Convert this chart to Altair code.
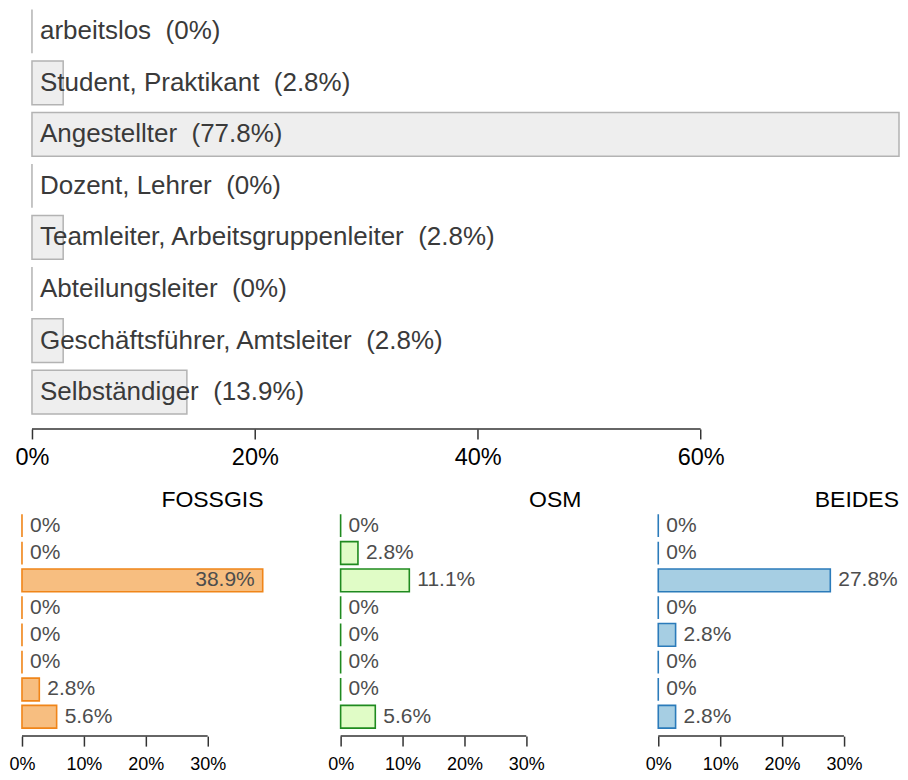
import altair as alt
import pandas as pd

FONT = "Liberation Sans"

categories = [
    "arbeitslos",
    "Student, Praktikant",
    "Angestellter",
    "Dozent, Lehrer",
    "Teamleiter, Arbeitsgruppenleiter",
    "Abteilungsleiter",
    "Geschäftsführer, Amtsleiter",
    "Selbständiger",
]
total_pct = [0, 2.8, 77.8, 0, 2.8, 0, 2.8, 13.9]
fossgis_pct = [0, 0, 38.9, 0, 0, 0, 2.8, 5.6]
osm_pct = [0, 2.8, 11.1, 0, 0, 0, 0, 5.6]
beides_pct = [0, 0, 27.8, 0, 2.8, 0, 0, 2.8]

top_ticks = [0, 20, 40, 60]
bottom_ticks = [0, 10, 20, 30]

groups = ["FOSSGIS", "OSM", "BEIDES"]
group_values = [fossgis_pct, osm_pct, beides_pct]
group_fill = ["#f7be80", "#e0fcc6", "#a6cee3"]
group_stroke = ["#f08519", "#1f8a1f", "#2b7bba"]


def fmt(v):
    return f"{v:g}%"


# ---------------- top chart ----------------
TOP_W, TOP_H, TOP_OFF, TOP_INDENT = 878, 405, 15, 10
top_df = pd.DataFrame({
    "cat": categories,
    "pct": total_pct,
    "label": [f"{c} \u00a0({fmt(v)})" for c, v in zip(categories, total_pct)],
})
top_max = max(total_pct)
x_top = alt.Scale(domain=[0, top_max], nice=False, zero=True, range=[TOP_INDENT, TOP_W])
y_top = alt.Scale(paddingInner=0.15, paddingOuter=0)

top_bars = alt.Chart(top_df).mark_bar(
    fill="#eeeeee", stroke="#b3b3b3", strokeWidth=1.5
).encode(
    x=alt.X("pct:Q", scale=x_top, axis=alt.Axis(
        values=top_ticks, labelExpr="datum.value + '%'", domain=False, grid=False,
        tickSize=10, tickColor="#333333", tickWidth=1.5, labelFontSize=23.5,
        labelFont=FONT, labelColor="black", labelPadding=7, offset=TOP_OFF,
        labelFlush=False, title=None,
    )),
    y=alt.Y("cat:N", sort=categories, scale=y_top, axis=None),
)
top_text = alt.Chart(top_df).mark_text(
    align="left", baseline="middle", dx=8, fontSize=26, font=FONT, color="#3a3a3a"
).encode(
    x=alt.X("zero:Q", scale=x_top),
    y=alt.Y("cat:N", sort=categories, scale=y_top),
    text="label:N",
).transform_calculate(zero="0")
top_axis_line = alt.Chart(pd.DataFrame({"a": [top_ticks[0]], "b": [top_ticks[-1]]})).mark_rule(
    color="#333333", strokeWidth=1.5
).encode(
    x=alt.X("a:Q", scale=x_top),
    x2="b:Q",
    y=alt.value(TOP_H + TOP_OFF),
)
top = alt.layer(top_bars, top_text, top_axis_line).properties(width=TOP_W, height=TOP_H)

# ---------------- bottom panels ----------------
BOT_W, BOT_H, BOT_OFF = 241, 214, 8
bot_max = max(max(v) for v in group_values)


def panel(name, vals, fill, stroke):
    df = pd.DataFrame({
        "cat": categories,
        "pct": vals,
        "label": [fmt(v) for v in vals],
        "inside": [v > 0.8 * bot_max for v in vals],
    })
    xs = alt.Scale(domain=[0, bot_max], nice=False, zero=True)
    ys = alt.Scale(paddingInner=0.166, paddingOuter=0)
    bars = alt.Chart(df).mark_bar(fill=fill, stroke=stroke, strokeWidth=1.6).encode(
        x=alt.X("pct:Q", scale=xs, axis=alt.Axis(
            values=bottom_ticks, labelExpr="datum.value + '%'", domain=False, grid=False,
            tickSize=10, tickColor="#333333", tickWidth=1.5, labelFontSize=18,
            labelFont=FONT, labelColor="black", labelPadding=9, offset=BOT_OFF,
            labelFlush=False, title=None,
        )),
        y=alt.Y("cat:N", sort=categories, scale=ys, axis=None),
    )
    out_text = alt.Chart(df).transform_filter("!datum.inside").mark_text(
        align="left", baseline="middle", dx=8, fontSize=21, font=FONT, color="#4d4d4d"
    ).encode(
        x=alt.X("pct:Q", scale=xs),
        y=alt.Y("cat:N", sort=categories, scale=ys),
        text="label:N",
    )
    in_text = alt.Chart(df).transform_filter("datum.inside").mark_text(
        align="right", baseline="middle", dx=-8, fontSize=21, font=FONT, color="#4d4d4d"
    ).encode(
        x=alt.X("pct:Q", scale=xs),
        y=alt.Y("cat:N", sort=categories, scale=ys),
        text="label:N",
    )
    axis_line = alt.Chart(pd.DataFrame({"a": [bottom_ticks[0]], "b": [bottom_ticks[-1]]})).mark_rule(
        color="#333333", strokeWidth=1.5
    ).encode(
        x=alt.X("a:Q", scale=xs),
        x2="b:Q",
        y=alt.value(BOT_H + BOT_OFF),
    )
    return alt.layer(bars, out_text, in_text, axis_line).properties(
        width=BOT_W, height=BOT_H,
        title=alt.TitleParams(text=name, anchor="end", fontSize=23, font=FONT,
                              fontWeight="normal", color="black", offset=2),
    )


bottom = alt.hconcat(
    *[panel(n, v, f, s) for n, v, f, s in zip(groups, group_values, group_fill, group_stroke)],
    spacing=63,
).resolve_scale(x="independent", y="independent")

chart = alt.vconcat(top, bottom, spacing=18.5).properties(
    padding={"left": 0, "top": 0, "right": 0, "bottom": 0}
).configure(font=FONT).configure_view(strokeWidth=0)

chart.save("out.html", embed_options={"renderer": "svg", "actions": False})
